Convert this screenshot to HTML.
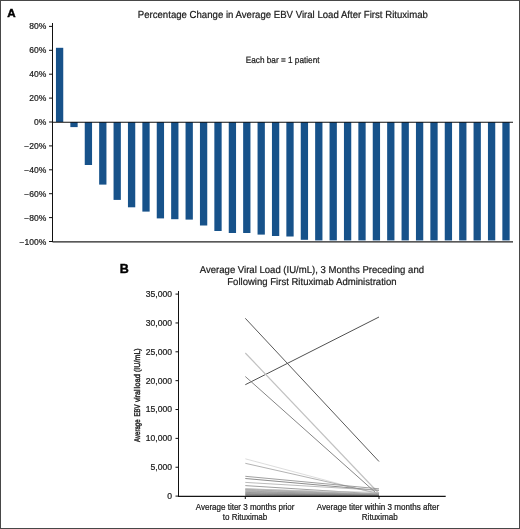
<!DOCTYPE html>
<html><head><meta charset="utf-8"><style>
html,body{margin:0;padding:0;background:#fff;}
.frame{position:relative;width:520px;height:529px;box-sizing:border-box;border:1px solid #484848;overflow:hidden;background:#fff;}
.frame svg{position:absolute;left:-1px;top:-1px;will-change:transform;}
text{font-family:"Liberation Sans", sans-serif;}
.t text{stroke:#1a1a1a;stroke-width:0.22px;}
</style></head><body><div class="frame">
<svg width="520" height="529" viewBox="0 0 520 529" font-family='"Liberation Sans", sans-serif' fill="#1a1a1a" class="t"><rect x="55.95" y="47.80" width="7.3" height="74.20" fill="#17528a"/>
<rect x="70.35" y="122.00" width="7.3" height="5.10" fill="#17528a"/>
<rect x="84.75" y="122.00" width="7.3" height="43.00" fill="#17528a"/>
<rect x="99.15" y="122.00" width="7.3" height="62.60" fill="#17528a"/>
<rect x="113.55" y="122.00" width="7.3" height="77.90" fill="#17528a"/>
<rect x="127.95" y="122.00" width="7.3" height="85.30" fill="#17528a"/>
<rect x="142.35" y="122.00" width="7.3" height="89.60" fill="#17528a"/>
<rect x="156.75" y="122.00" width="7.3" height="96.40" fill="#17528a"/>
<rect x="171.15" y="122.00" width="7.3" height="97.20" fill="#17528a"/>
<rect x="185.55" y="122.00" width="7.3" height="97.60" fill="#17528a"/>
<rect x="199.95" y="122.00" width="7.3" height="103.50" fill="#17528a"/>
<rect x="214.35" y="122.00" width="7.3" height="109.00" fill="#17528a"/>
<rect x="228.75" y="122.00" width="7.3" height="111.00" fill="#17528a"/>
<rect x="243.15" y="122.00" width="7.3" height="111.00" fill="#17528a"/>
<rect x="257.55" y="122.00" width="7.3" height="112.60" fill="#17528a"/>
<rect x="271.95" y="122.00" width="7.3" height="114.00" fill="#17528a"/>
<rect x="286.35" y="122.00" width="7.3" height="114.50" fill="#17528a"/>
<rect x="300.75" y="122.00" width="7.3" height="117.80" fill="#17528a"/>
<rect x="315.15" y="122.00" width="7.3" height="118.40" fill="#17528a"/>
<rect x="329.55" y="122.00" width="7.3" height="118.40" fill="#17528a"/>
<rect x="343.95" y="122.00" width="7.3" height="118.40" fill="#17528a"/>
<rect x="358.35" y="122.00" width="7.3" height="118.40" fill="#17528a"/>
<rect x="372.75" y="122.00" width="7.3" height="118.40" fill="#17528a"/>
<rect x="387.15" y="122.00" width="7.3" height="118.40" fill="#17528a"/>
<rect x="401.55" y="122.00" width="7.3" height="118.40" fill="#17528a"/>
<rect x="415.95" y="122.00" width="7.3" height="118.40" fill="#17528a"/>
<rect x="430.35" y="122.00" width="7.3" height="118.40" fill="#17528a"/>
<rect x="444.75" y="122.00" width="7.3" height="118.40" fill="#17528a"/>
<rect x="459.15" y="122.00" width="7.3" height="118.40" fill="#17528a"/>
<rect x="473.55" y="122.00" width="7.3" height="118.40" fill="#17528a"/>
<rect x="487.95" y="122.00" width="7.3" height="118.40" fill="#17528a"/>
<rect x="502.35" y="122.00" width="7.3" height="118.40" fill="#17528a"/>
<line x1="52.5" y1="122.3" x2="513" y2="122.3" stroke="#111" stroke-width="1.1"/>
<line x1="52.5" y1="241.9" x2="513" y2="241.9" stroke="#222" stroke-width="1.2"/>
<line x1="52.5" y1="23" x2="52.5" y2="242" stroke="#111" stroke-width="1"/>
<line x1="49" y1="26.40" x2="52.5" y2="26.40" stroke="#111" stroke-width="1"/>
<text x="46.30" y="29.40" font-size="8.5" text-anchor="end">80%</text>
<line x1="49" y1="50.30" x2="52.5" y2="50.30" stroke="#111" stroke-width="1"/>
<text x="46.30" y="53.30" font-size="8.5" text-anchor="end">60%</text>
<line x1="49" y1="74.20" x2="52.5" y2="74.20" stroke="#111" stroke-width="1"/>
<text x="46.30" y="77.20" font-size="8.5" text-anchor="end">40%</text>
<line x1="49" y1="98.10" x2="52.5" y2="98.10" stroke="#111" stroke-width="1"/>
<text x="46.30" y="101.10" font-size="8.5" text-anchor="end">20%</text>
<line x1="49" y1="122.00" x2="52.5" y2="122.00" stroke="#111" stroke-width="1"/>
<text x="46.30" y="125.00" font-size="8.5" text-anchor="end">0%</text>
<line x1="49" y1="145.90" x2="52.5" y2="145.90" stroke="#111" stroke-width="1"/>
<text x="46.30" y="148.90" font-size="8.5" text-anchor="end">−20%</text>
<line x1="49" y1="169.80" x2="52.5" y2="169.80" stroke="#111" stroke-width="1"/>
<text x="46.30" y="172.80" font-size="8.5" text-anchor="end">−40%</text>
<line x1="49" y1="193.70" x2="52.5" y2="193.70" stroke="#111" stroke-width="1"/>
<text x="46.30" y="196.70" font-size="8.5" text-anchor="end">−60%</text>
<line x1="49" y1="217.60" x2="52.5" y2="217.60" stroke="#111" stroke-width="1"/>
<text x="46.30" y="220.60" font-size="8.5" text-anchor="end">−80%</text>
<line x1="49" y1="241.50" x2="52.5" y2="241.50" stroke="#111" stroke-width="1"/>
<text x="46.30" y="244.50" font-size="8.5" text-anchor="end">−100%</text>
<text transform="translate(282.85,17.50) scale(0.943,1)" font-size="10.2" text-anchor="middle" text-rendering="geometricPrecision">Percentage Change in Average EBV Viral Load After First Rituximab</text>
<text transform="translate(282.65,62.60) scale(0.913,1)" font-size="9.0" text-anchor="middle" text-rendering="geometricPrecision">Each bar = 1 patient</text>
<text x="7.3" y="17.1" font-size="11.6" font-weight="bold" fill="#000" style="stroke:#000;stroke-width:0.45px">A</text>
<text x="119.8" y="272.6" font-size="12.5" font-weight="bold" fill="#000" style="stroke:#000;stroke-width:0.45px">B</text>
<text transform="translate(311.90,272.70) scale(0.955,1)" font-size="10.0" text-anchor="middle" text-rendering="geometricPrecision">Average Viral Load (IU/mL), 3 Months Preceding and</text>
<text transform="translate(311.90,284.70) scale(0.955,1)" font-size="10.0" text-anchor="middle" text-rendering="geometricPrecision">Following First Rituximab Administration</text>
<line x1="175.5" y1="496.10" x2="178.5" y2="496.10" stroke="#111" stroke-width="1"/>
<text x="172.10" y="499.00" font-size="8.6" text-anchor="end">0</text>
<line x1="175.5" y1="467.24" x2="178.5" y2="467.24" stroke="#111" stroke-width="1"/>
<text x="172.10" y="470.14" font-size="8.6" text-anchor="end">5,000</text>
<line x1="175.5" y1="438.39" x2="178.5" y2="438.39" stroke="#111" stroke-width="1"/>
<text x="172.10" y="441.29" font-size="8.6" text-anchor="end">10,000</text>
<line x1="175.5" y1="409.53" x2="178.5" y2="409.53" stroke="#111" stroke-width="1"/>
<text x="172.10" y="412.43" font-size="8.6" text-anchor="end">15,000</text>
<line x1="175.5" y1="380.67" x2="178.5" y2="380.67" stroke="#111" stroke-width="1"/>
<text x="172.10" y="383.57" font-size="8.6" text-anchor="end">20,000</text>
<line x1="175.5" y1="351.81" x2="178.5" y2="351.81" stroke="#111" stroke-width="1"/>
<text x="172.10" y="354.71" font-size="8.6" text-anchor="end">25,000</text>
<line x1="175.5" y1="322.96" x2="178.5" y2="322.96" stroke="#111" stroke-width="1"/>
<text x="172.10" y="325.86" font-size="8.6" text-anchor="end">30,000</text>
<line x1="175.5" y1="294.10" x2="178.5" y2="294.10" stroke="#111" stroke-width="1"/>
<text x="172.10" y="297.00" font-size="8.6" text-anchor="end">35,000</text>
<line x1="245.3" y1="318.3" x2="379.0" y2="461.5" stroke="#5a5a5a" stroke-width="1.0"/>
<line x1="245.3" y1="384.7" x2="379.0" y2="317.0" stroke="#505050" stroke-width="1.0"/>
<line x1="245.3" y1="353.0" x2="379.0" y2="493.5" stroke="#c2c2c2" stroke-width="1.2"/>
<line x1="245.3" y1="376.5" x2="379.0" y2="495.6" stroke="#858585" stroke-width="1.0"/>
<line x1="245.3" y1="458.8" x2="379.0" y2="494.5" stroke="#d4d4d4" stroke-width="0.8"/>
<line x1="245.3" y1="463.3" x2="379.0" y2="493.5" stroke="#a0a0a0" stroke-width="0.8"/>
<line x1="245.3" y1="476.3" x2="379.0" y2="488.8" stroke="#888" stroke-width="0.8"/>
<line x1="245.3" y1="478.5" x2="379.0" y2="490.4" stroke="#707070" stroke-width="0.8"/>
<line x1="245.3" y1="482.4" x2="379.0" y2="490.3" stroke="#aaa" stroke-width="0.8"/>
<line x1="245.3" y1="485.6" x2="379.0" y2="494.1" stroke="#888" stroke-width="0.8"/>
<line x1="245.3" y1="488.6" x2="379.0" y2="494.5" stroke="#aaa" stroke-width="0.8"/>
<line x1="245.3" y1="489.2" x2="379.0" y2="492.5" stroke="#bbb" stroke-width="0.8"/>
<line x1="245.3" y1="489.6" x2="379.0" y2="495.0" stroke="#999" stroke-width="0.8"/>
<line x1="245.3" y1="490.3" x2="379.0" y2="494.0" stroke="#aaa" stroke-width="0.8"/>
<line x1="245.3" y1="491.0" x2="379.0" y2="495.3" stroke="#999" stroke-width="0.8"/>
<line x1="245.3" y1="491.7" x2="379.0" y2="494.6" stroke="#999" stroke-width="0.8"/>
<line x1="245.3" y1="492.4" x2="379.0" y2="495.5" stroke="#888" stroke-width="0.8"/>
<line x1="245.3" y1="493.0" x2="379.0" y2="495.0" stroke="#999" stroke-width="0.8"/>
<line x1="245.3" y1="493.6" x2="379.0" y2="495.6" stroke="#888" stroke-width="0.8"/>
<line x1="245.3" y1="494.2" x2="379.0" y2="495.2" stroke="#888" stroke-width="0.8"/>
<line x1="245.3" y1="494.8" x2="379.0" y2="495.7" stroke="#777" stroke-width="0.8"/>
<line x1="245.3" y1="495.3" x2="379.0" y2="495.8" stroke="#666" stroke-width="0.8"/>
<line x1="178.5" y1="291" x2="178.5" y2="496.3" stroke="#111" stroke-width="1"/>
<line x1="178" y1="496.3" x2="445.7" y2="496.3" stroke="#151515" stroke-width="1.25"/>
<line x1="245.3" y1="496.1" x2="245.3" y2="499" stroke="#111" stroke-width="1"/>
<line x1="379.0" y1="496.1" x2="379.0" y2="499" stroke="#111" stroke-width="1"/>
<text transform="translate(245.10,509.60) scale(0.955,1)" font-size="8.4" text-anchor="middle">Average titer 3 months prior</text>
<text transform="translate(245.00,520.00) scale(0.955,1)" font-size="8.4" text-anchor="middle">to Rituximab</text>
<text transform="translate(378.00,509.60) scale(0.962,1)" font-size="8.4" text-anchor="middle">Average titer within 3 months after</text>
<text transform="translate(379.70,520.00) scale(0.962,1)" font-size="8.4" text-anchor="middle">Rituximab</text>
<text transform="translate(139.5,441.91) rotate(-90) scale(0.730,1)" font-size="8.3" text-rendering="geometricPrecision" style="stroke-width:0.4px">Average</text>
<text transform="translate(139.5,416.49) rotate(-90) scale(0.724,1)" font-size="8.3" text-rendering="geometricPrecision" style="stroke-width:0.4px">EBV</text>
<text transform="translate(139.5,402.12) rotate(-90) scale(0.827,1)" font-size="8.3" text-rendering="geometricPrecision" style="stroke-width:0.4px">viral</text>
<text transform="translate(139.5,388.41) rotate(-90) scale(0.911,1)" font-size="8.3" text-rendering="geometricPrecision" style="stroke-width:0.4px">load</text>
<text transform="translate(139.5,372.04) rotate(-90) scale(0.860,1)" font-size="8.3" text-rendering="geometricPrecision" style="stroke-width:0.4px">(IU/mL)</text></svg>
</div></body></html>
